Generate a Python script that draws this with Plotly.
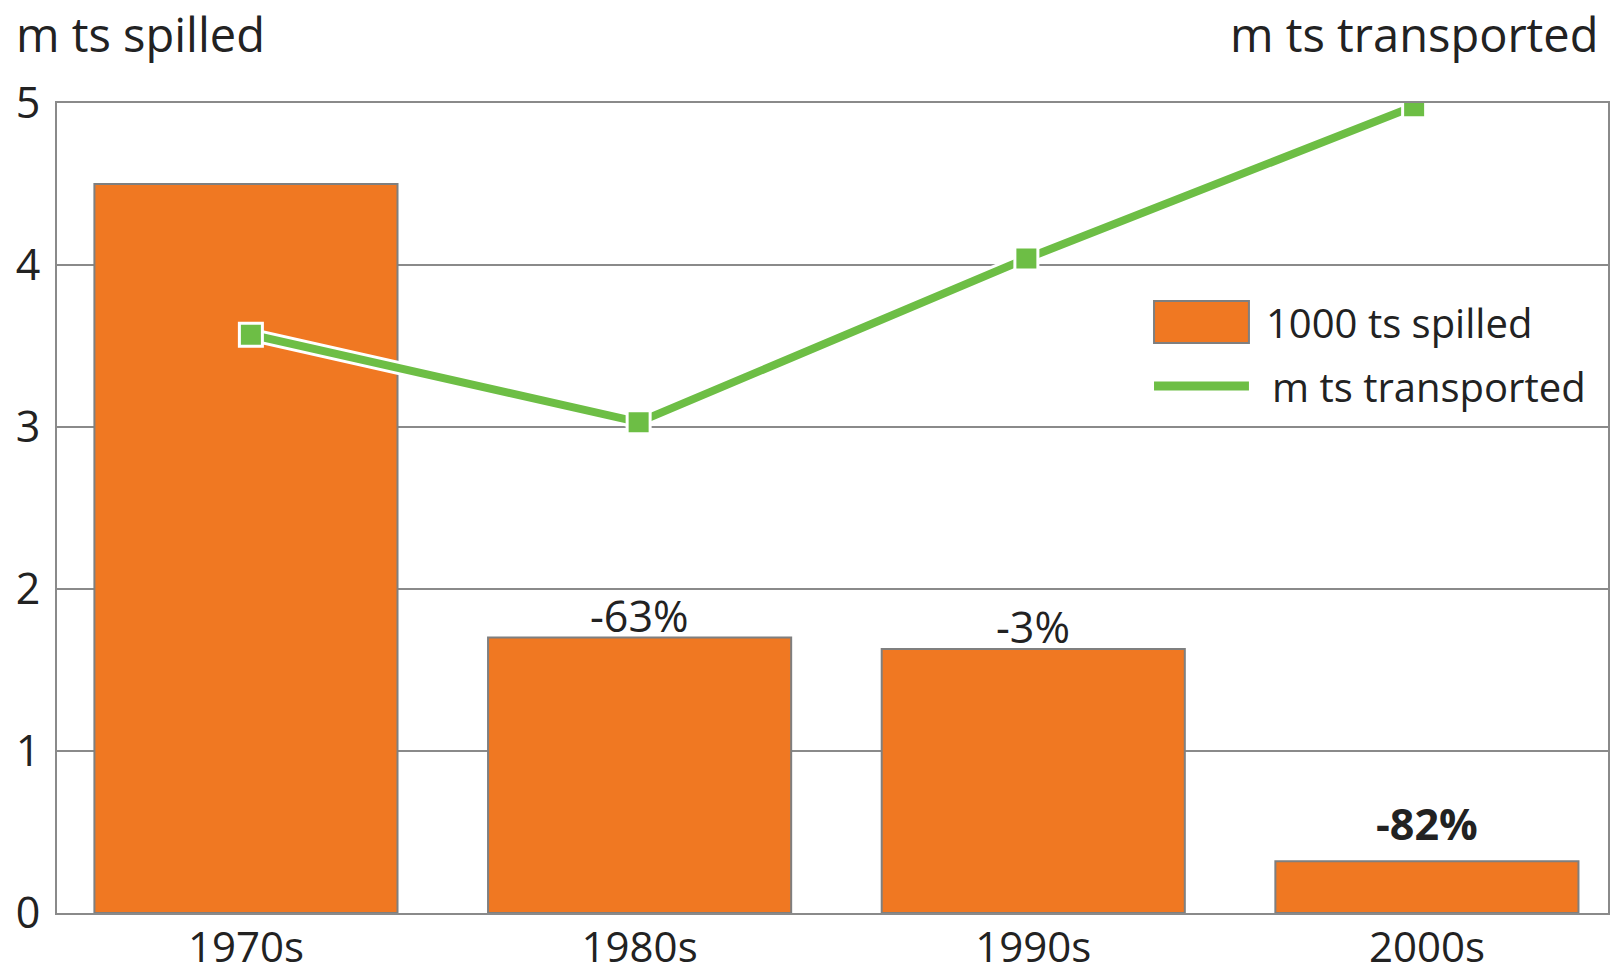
import plotly.graph_objects as go

categories = ["1970s", "1980s", "1990s", "2000s"]
spilled = [4.50, 1.70, 1.63, 0.32]
transported = [3.57, 3.03, 4.04, 4.98]
change_labels = ["", "-63%", "-3%", "<b>-82%</b>"]
label_shift = [0, 22, 22, 38]
y_ticks = [0, 1, 2, 3, 4, 5]

ORANGE = "#F07822"
GREEN = "#6DBE45"
GRID = "#8a8a8a"
TEXT = "#222222"
FONT = "Open Sans"

fig = go.Figure()
fig.add_trace(go.Bar(
    x=categories, y=spilled, name="1000 ts spilled",
    marker=dict(color=ORANGE, line=dict(color="#7f7f7f", width=2)),
    width=0.77, showlegend=False,
))
fig.add_trace(go.Scatter(
    x=categories, y=transported, xaxis="x2", mode="lines",
    line=dict(color="white", width=14), hoverinfo="skip", showlegend=False,
))
fig.add_trace(go.Scatter(
    x=categories, y=transported, xaxis="x2", mode="lines+markers",
    name="m ts transported",
    line=dict(color=GREEN, width=8),
    marker=dict(symbol="square", size=23, color=GREEN, line=dict(color="white", width=3)),
    showlegend=False,
))

annotations = []
for c, v, t, s in zip(categories, spilled, change_labels, label_shift):
    if t:
        annotations.append(dict(x=c, y=v, xref="x", yref="y", text=t, showarrow=False,
                                yanchor="middle", yshift=s,
                                font=dict(family=FONT, size=43, color=TEXT)))

annotations += [
    dict(x=-0.028, y=1.085, xref="paper", yref="paper", text="m ts spilled", showarrow=False,
         xanchor="left", yanchor="middle", font=dict(family=FONT, size=47, color=TEXT)),
    dict(x=0.9955, y=1.085, xref="paper", yref="paper", text="m ts transported", showarrow=False,
         xanchor="right", yanchor="middle", font=dict(family=FONT, size=47, color=TEXT)),
    dict(x=0.778, y=0.7296, xref="paper", yref="paper", text="1000 ts spilled", showarrow=False,
         xanchor="left", yanchor="middle", font=dict(family=FONT, size=40, color=TEXT)),
    dict(x=0.7821, y=0.6506, xref="paper", yref="paper", text="m ts transported", showarrow=False,
         xanchor="left", yanchor="middle", font=dict(family=FONT, size=40, color=TEXT)),
]

shapes = [
    dict(type="rect", xref="paper", yref="paper", x0=0.7073, x1=0.7685, y0=0.7037, y1=0.7556,
         fillcolor=ORANGE, line=dict(color="#7f7f7f", width=2)),
    dict(type="line", xref="paper", yref="paper", x0=0.7073, x1=0.7685, y0=0.6506, y1=0.6506,
         line=dict(color=GREEN, width=9)),
]

fig.update_layout(
    width=1618, height=977,
    margin=dict(l=57, r=10, t=103, b=64),
    paper_bgcolor="white", plot_bgcolor="white",
    xaxis=dict(type="category", categoryorder="array", categoryarray=categories,
               range=[-0.48, 3.46], showgrid=False, showline=True, mirror=True,
               linecolor=GRID, linewidth=2, ticks="", ticklabelstandoff=-3, automargin=False,
               tickfont=dict(family=FONT, size=42, color=TEXT)),
    xaxis2=dict(type="category", categoryorder="array", categoryarray=categories,
                overlaying="x", range=[-0.5, 3.5], visible=False),
    yaxis=dict(range=[0, 5], tickvals=y_ticks, showgrid=True, gridcolor=GRID, gridwidth=2,
               showline=True, mirror=True, linecolor=GRID, linewidth=2, zeroline=False,
               ticks="", ticklabelstandoff=6, automargin=False,
               tickfont=dict(family=FONT, size=43, color=TEXT)),
    annotations=annotations, shapes=shapes,
    showlegend=False,
)

fig.write_html("out.html")
